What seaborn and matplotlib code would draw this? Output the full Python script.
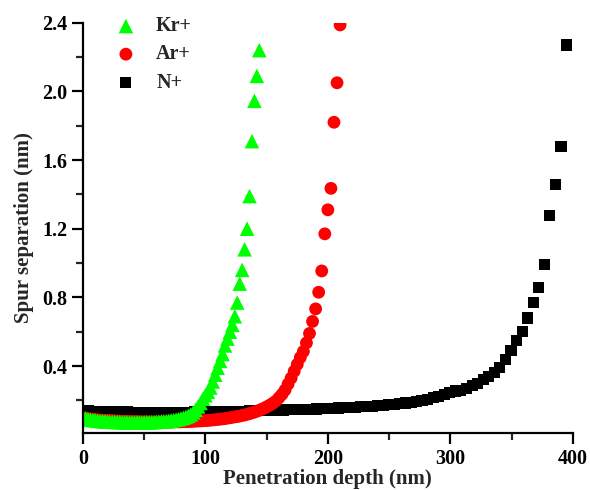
import numpy as np
import pandas as pd
import matplotlib
matplotlib.use("Agg")
import matplotlib.pyplot as plt
from matplotlib.ticker import MultipleLocator
import seaborn as sns

# Kr+ ions
kr_x = [0, 2, 4, 6, 8, 10, 12, 14, 16, 18, 20, 22, 24, 26, 28, 30, 32, 34, 36, 38,
        40, 42, 44, 46, 48, 50, 52, 54, 56, 58, 60, 62, 64, 66, 68, 70, 72, 74, 76, 78,
        80, 82, 84, 86, 88, 90, 92, 94, 96, 98, 100, 102, 104, 106, 108, 110, 112, 114,
        116, 118, 120, 122, 124, 126, 128, 130, 132, 134, 136, 138, 140, 142, 144]
kr_y = [0.100, 0.095, 0.091, 0.088, 0.086, 0.084, 0.082, 0.080, 0.079, 0.078,
        0.077, 0.076, 0.075, 0.075, 0.074, 0.074, 0.073, 0.073, 0.073, 0.072,
        0.072, 0.072, 0.072, 0.072, 0.072, 0.072, 0.073, 0.073, 0.073, 0.074,
        0.075, 0.076, 0.077, 0.078, 0.079, 0.081, 0.083, 0.085, 0.088, 0.091,
        0.095, 0.099, 0.104, 0.110, 0.118, 0.130, 0.145, 0.165, 0.185, 0.210,
        0.230, 0.250, 0.275, 0.310, 0.350, 0.390, 0.430, 0.470, 0.520, 0.560,
        0.600, 0.640, 0.690, 0.770, 0.880, 0.960, 1.080, 1.200, 1.390, 1.710,
        1.945, 2.090, 2.240]

# Ar+ ions
ar_x = [0, 2.5, 5, 7.5, 10, 12.5, 15, 17.5, 20, 22.5, 25, 27.5, 30, 32.5, 35, 37.5,
        40, 42.5, 45, 47.5, 50, 52.5, 55, 57.5, 60, 62.5, 65, 67.5, 70, 72.5, 75, 77.5,
        80, 82.5, 85, 87.5, 90, 92.5, 95, 97.5, 100, 102.5, 105, 107.5, 110, 112.5,
        115, 117.5, 120, 122.5, 125, 127.5, 130, 132.5, 135, 137.5, 140, 142.5, 145,
        147.5, 150, 152.5, 155, 157.5, 160, 162.5, 165, 167.5, 170, 172.5, 175, 177.5,
        180, 182.5, 185, 187.5, 190, 192.5, 195, 197.5, 200, 202.5, 205, 207.5, 210]
ar_y = [0.100, 0.096, 0.093, 0.090, 0.088, 0.086, 0.085, 0.084, 0.083, 0.082,
        0.081, 0.080, 0.079, 0.078, 0.078, 0.077, 0.077, 0.076, 0.076, 0.075,
        0.075, 0.075, 0.074, 0.074, 0.074, 0.074, 0.074, 0.074, 0.074, 0.074,
        0.075, 0.075, 0.075, 0.076, 0.076, 0.077, 0.078, 0.079, 0.080, 0.081,
        0.082, 0.084, 0.085, 0.087, 0.089, 0.091, 0.093, 0.096, 0.099, 0.102,
        0.105, 0.108, 0.112, 0.116, 0.121, 0.126, 0.132, 0.138, 0.145, 0.153,
        0.162, 0.172, 0.183, 0.196, 0.215, 0.235, 0.260, 0.295, 0.330, 0.370,
        0.410, 0.450, 0.485, 0.535, 0.590, 0.660, 0.733, 0.830, 0.954, 1.170,
        1.310, 1.435, 1.820, 2.050, 2.387]

# N+ ions
n_x = [0, 4.5, 9.1, 13.6, 18.2, 22.7, 27.2, 31.8, 36.3, 40.9,
       45.4, 49.9, 54.5, 59.0, 63.6, 68.1, 72.6, 77.2, 81.7, 86.3,
       90.8, 95.3, 99.9, 104.4, 109.0, 113.5, 118.0, 122.6, 127.1, 131.7,
       136.2, 140.7, 145.3, 149.8, 154.4, 158.9, 163.4, 168.0, 172.5, 177.1,
       181.6, 186.1, 190.7, 195.2, 199.8, 204.3, 208.8, 213.4, 217.9, 222.5,
       227.0, 231.5, 236.1, 240.6, 245.2, 249.7, 254.2, 258.8, 263.3, 267.9,
       272.4, 276.9, 281.5, 286.0, 290.6, 295.1, 299.6, 304.2, 308.7, 313.3,
       317.8, 322.3, 326.9, 331.4, 336.0, 340.5, 345.0, 349.6, 354.1, 358.7,
       363.2, 367.7, 372.3, 376.8, 381.4, 385.9, 390.4, 395.0]
n_y = [0.140, 0.138, 0.137, 0.136, 0.135, 0.134, 0.134, 0.133, 0.133, 0.132,
       0.132, 0.132, 0.132, 0.132, 0.132, 0.132, 0.132, 0.132, 0.132, 0.132,
       0.133, 0.133, 0.134, 0.134, 0.135, 0.135, 0.136, 0.136, 0.137, 0.137,
       0.138, 0.139, 0.140, 0.141, 0.142, 0.143, 0.144, 0.145, 0.146, 0.147,
       0.148, 0.149, 0.150, 0.152, 0.153, 0.155, 0.156, 0.158, 0.159, 0.161,
       0.163, 0.165, 0.167, 0.169, 0.172, 0.175, 0.178, 0.181, 0.185, 0.190,
       0.195, 0.200, 0.207, 0.215, 0.225, 0.235, 0.248, 0.255, 0.260, 0.270,
       0.285, 0.300, 0.320, 0.340, 0.360, 0.390, 0.440, 0.490, 0.550, 0.600,
       0.680, 0.770, 0.860, 0.990, 1.275, 1.455, 1.680, 2.270]

sns.set_style("ticks")
plt.rcParams['font.family'] = ['Liberation Serif', 'DejaVu Serif']
plt.rcParams['font.weight'] = 'bold'
plt.rcParams['axes.labelweight'] = 'bold'

fig = plt.figure(figsize=(5.9, 4.9), dpi=100)
ax = fig.add_axes([0.1407, 0.117, 0.830, 0.8367])

# order of drawing: N below, Kr on top
sns.scatterplot(x=n_x, y=n_y, marker="s", color="black", s=64, edgecolor="none",
                linewidth=0, ax=ax, label="N+")
sns.scatterplot(x=ar_x, y=ar_y, marker="o", color="red", s=85, edgecolor="none",
                linewidth=0, ax=ax, label="Ar+")
sns.scatterplot(x=kr_x, y=kr_y, marker="^", color="#00ff00", s=110, edgecolor="none",
                linewidth=0, ax=ax, label="Kr+")

ax.set_xlim(0, 400)
ax.set_ylim(0.012, 2.4)
ax.xaxis.set_major_locator(MultipleLocator(100))
ax.xaxis.set_minor_locator(MultipleLocator(50))
ax.set_yticks([0.4, 0.8, 1.2, 1.6, 2.0, 2.4])
ax.set_yticklabels(["0.4", "0.8", "1.2", "1.6", "2.0", "2.4"])
ax.set_yticks([0.2, 0.6, 1.0, 1.4, 1.8, 2.2], minor=True)

sns.despine(ax=ax)
for sp in ["left", "bottom"]:
    ax.spines[sp].set_linewidth(1.6)
    ax.spines[sp].set_color("black")
ax.tick_params(which="major", direction="out", length=8, width=1.6, labelsize=14.5, colors="black")
ax.tick_params(which="minor", direction="out", length=5, width=1.6)

ax.set_xlabel("Penetration depth (nm)", fontsize=15, fontweight="bold", labelpad=0)
ax.set_ylabel("Spur separation (nm)", fontsize=15, fontweight="bold", labelpad=6)

h, l = ax.get_legend_handles_labels()
ax.legend(h[::-1], l[::-1], loc="upper left", bbox_to_anchor=(0.03, 1.035), frameon=False,
          fontsize=14.5, handletextpad=0.5, labelspacing=0.4, borderaxespad=0)

fig.savefig("out.png", dpi=100)
